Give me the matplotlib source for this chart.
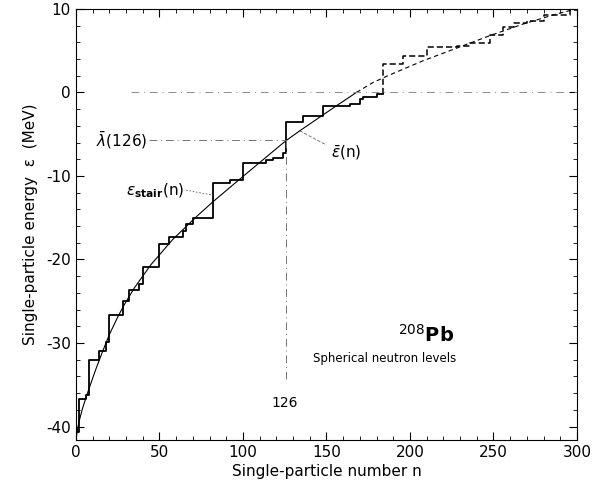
import numpy as np
import matplotlib
matplotlib.use("Agg")
import matplotlib.pyplot as plt
from matplotlib.ticker import MultipleLocator

# bound neutron levels: energy (MeV) and number of particles per level
bound_e = [-40.7, -36.7, -36.2, -32.0, -31.0, -29.9, -26.7, -25.0, -23.7, -22.9,
           -20.9, -18.2, -17.3, -16.6, -15.8, -15.0, -10.8, -10.5, -8.4, -8.1,
           -7.8, -7.3, -3.5, -2.8, -1.6, -1.4, -0.8, -0.5, -0.25]
bound_deg = [2, 4, 2, 6, 4, 2, 8, 4, 6, 2, 10, 6, 8, 2, 4, 12, 10, 8, 14, 4,
             6, 2, 10, 12, 16, 6, 2, 8, 4]

# unbound (continuum) levels
cont_e = [3.35, 4.3, 5.4, 5.5, 5.9, 6.9, 7.8, 8.3, 8.5, 9.3, 9.9]
cont_deg = [12, 14, 18, 8, 12, 8, 6, 8, 10, 16, 4]

# smooth average curve eps_bar(n)
curve_n = [0, 1, 2, 4, 6.6, 9, 12, 16, 20, 25, 29, 35, 45, 58, 72, 82, 98,
           110, 122, 126, 134, 145, 156, 168, 178, 188, 208, 228, 248, 268, 288, 300]
curve_e = [-41.6, -40.3, -39.3, -37.8, -36.2, -34.8, -33.1, -31.0, -29.0, -26.9,
           -25.4, -23.4, -20.6, -17.6, -14.9, -13.1, -10.4, -8.4, -6.4, -5.75,
           -4.6, -3.1, -1.6, 0.0, 1.2, 2.1, 3.8, 5.3, 6.8, 8.2, 9.4, 10.0]

lambda_126 = -5.75
n_fermi = 126


def stair_xy(edges, values):
    x = np.repeat(edges, 2)[1:-1]
    y = np.repeat(values, 2)
    return x, y


plt.rcParams['axes.unicode_minus'] = False
fig = plt.figure(figsize=(5.93, 4.91), dpi=100)
ax = fig.add_axes([0.128, 0.104, 0.845, 0.878])

# staircase
b_edges = np.concatenate([[0], np.cumsum(bound_deg)])
bx, by = stair_xy(b_edges, bound_e)
ax.plot(bx, by, color='black', lw=1.3)

c_edges = np.concatenate([[b_edges[-1]], b_edges[-1] + np.cumsum(cont_deg)])
cx, cy = stair_xy(c_edges, cont_e)
cx = np.concatenate([[b_edges[-1]], cx])
cy = np.concatenate([[bound_e[-1]], cy])
ax.plot(cx, cy, color='black', lw=1.1, ls=(0, (4, 2)))

# smooth curve: solid while bound, dashed above
curve_n = np.array(curve_n)
curve_e = np.array(curve_e)
solid = curve_n <= 168
ax.plot(curve_n[solid], curve_e[solid], color='black', lw=0.8)
ax.plot(curve_n[curve_n >= 168], curve_e[curve_n >= 168], color='black',
        lw=0.8, ls=(0, (4, 3)))

# reference lines
ax.plot([33, 300], [0, 0], color='0.55', lw=0.7, ls=(0, (8, 5, 1, 5)))
ax.plot([44, n_fermi], [lambda_126, lambda_126], color='0.45', lw=0.7,
        ls=(0, (8, 4, 1, 4)))
ax.plot([n_fermi, n_fermi], [lambda_126, -34.3], color='0.45', lw=0.7,
        ls=(0, (8, 4, 1, 4)))

# labels
ax.text(43, lambda_126, r'$\bar{\lambda}$(126)', fontsize=11, ha='right', va='center')
ax.text(125, -37.2, '126', fontsize=10, ha='center', va='center')
ax.text(65, -11.8, r'$\epsilon_{\mathbf{stair}}$(n)', fontsize=11, ha='right', va='center')
ax.plot([66, 82], [-11.7, -12.3], color='0.4', lw=0.6, ls=(0, (2, 2)))
ax.text(153, -7.3, r'$\bar{\epsilon}$(n)', fontsize=11, ha='left', va='center')
ax.plot([134, 150], [-4.6, -6.3], color='0.4', lw=0.6, ls=(0, (4, 2)))
ax.text(193, -29.0, r'$^{208}\mathbf{Pb}$', fontsize=14, ha='left', va='center')
ax.text(227.5, -31.9, 'Spherical neutron levels', fontsize=8.5, ha='right', va='center')

ax.set_xlim(0, 300)
ax.set_ylim(-41.6, 10)
ax.xaxis.set_major_locator(MultipleLocator(50))
ax.xaxis.set_minor_locator(MultipleLocator(10))
ax.yaxis.set_major_locator(MultipleLocator(10))
ax.yaxis.set_minor_locator(MultipleLocator(2))
ax.tick_params(which='both', direction='in', top=True, right=True, labelsize=11)
ax.tick_params(which='major', length=6)
ax.tick_params(which='minor', length=3)
ax.set_xlabel('Single-particle number n', fontsize=11, labelpad=3)
ax.set_ylabel('Single-particle energy  ε  (MeV)', fontsize=11, labelpad=6)

fig.savefig('out.png', dpi=100)
